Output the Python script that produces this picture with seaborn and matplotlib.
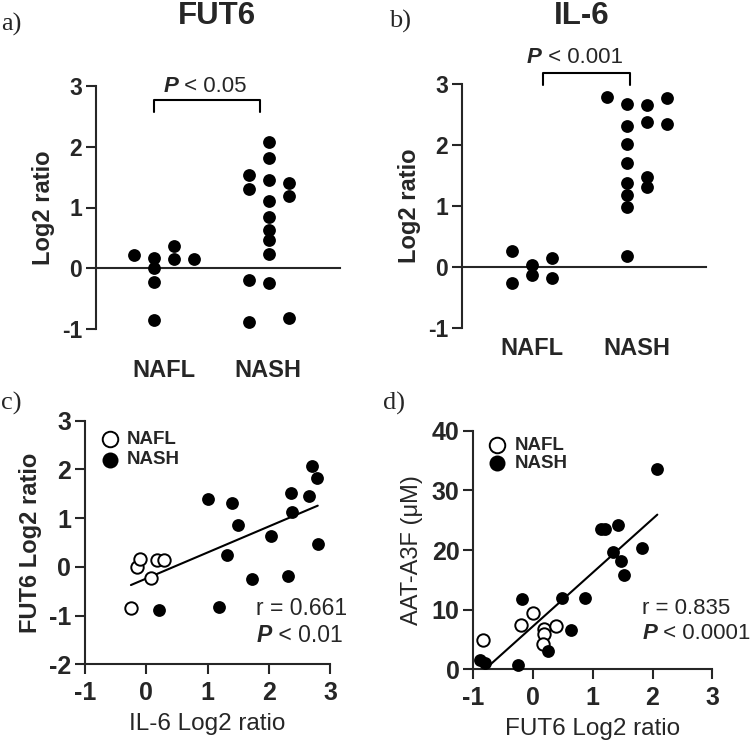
import numpy as np
import pandas as pd
import matplotlib
matplotlib.use("Agg")
import matplotlib.pyplot as plt
import seaborn as sns

# ---------------- data ----------------
groups = ["NAFL", "NASH"]

# panel a: FUT6 log2 ratio (value, dot column within the group)
fut6_nafl = [0.21, 0.17, 0.00, -0.23, -0.86, 0.36, 0.15, 0.16]
fut6_nafl_col = [-1, 0, 0, 0, 0, 1, 1, 2]
fut6_nash = [1.53, 1.31, -0.19, -0.89, 2.07, 1.82, 1.45, 1.11, 0.85, 0.63,
             0.46, 0.24, -0.25, 1.41, 1.19, -0.82]
fut6_nash_col = [-1, -1, -1, -1, 0, 0, 0, 0, 0, 0, 0, 0, 0, 1, 1, 1]

# panel b: IL-6 log2 ratio
il6_nafl = [0.26, -0.27, 0.04, -0.13, 0.14, -0.18]
il6_nafl_col = [-1, -1, 0, 0, 1, 1]
il6_nash = [2.79, 2.68, 2.31, 2.02, 1.70, 1.38, 1.18, 0.99, 0.18, 2.65, 2.37,
            1.48, 1.31, 2.77, 2.35]
il6_nash_col = [-1, 0, 0, 0, 0, 0, 0, 0, 0, 1, 1, 1, 1, 2, 2]

# panel c: IL-6 (x) vs FUT6 (y)
c_nafl_x = [-0.25, -0.15, -0.10, 0.07, 0.18, 0.29]
c_nafl_y = [-0.85, -0.01, 0.17, -0.22, 0.15, 0.15]
c_nash_x = [0.20, 1.00, 1.40, 1.49, 1.32, 1.19, 1.72, 2.04, 2.32, 2.38, 2.36,
            2.66, 2.70, 2.78, 2.80]
c_nash_y = [-0.89, 1.39, 1.32, 0.85, 0.24, -0.82, -0.25, 0.63, -0.18, 1.12,
            1.52, 1.46, 2.08, 1.82, 0.46]

# panel d: FUT6 (x) vs AAT-A3F (y)
d_nafl_x = [-0.84, -0.21, 0.00, 0.18, 0.18, 0.16, 0.38]
d_nafl_y = [4.9, 7.5, 9.4, 6.7, 6.0, 4.2, 7.2]
d_nash_x = [-0.89, -0.81, -0.25, -0.18, 0.25, 0.48, 0.63, 0.87, 1.13, 1.20,
            1.42, 1.33, 1.47, 1.53, 1.83, 2.08]
d_nash_y = [1.6, 1.1, 0.7, 11.8, 3.0, 11.9, 6.6, 12.0, 23.6, 23.6, 24.2, 19.7,
            18.2, 15.8, 20.3, 33.6]

# ---------------- style ----------------
sns.set_style("ticks")
plt.rcParams["font.family"] = ["Liberation Sans", "DejaVu Sans"]
plt.rcParams["axes.linewidth"] = 1.5
plt.rcParams["axes.unicode_minus"] = False

W, H = 750, 742
fig = plt.figure(figsize=(7.5, 7.42), dpi=100)


def rect(x0, y_top, x1, y_bot):
    return [x0 / W, 1 - y_bot / H, (x1 - x0) / W, (y_bot - y_top) / H]


def style_axes(ax, size):
    sns.despine(ax=ax)
    ax.tick_params(direction="out", length=7, width=1.5, labelsize=size, pad=3)
    for lab in ax.get_xticklabels() + ax.get_yticklabels():
        lab.set_fontweight("bold")


def ptext(ax, x, y, rest, size):
    t = ax.text(x, y, "P", fontsize=size, fontweight="bold", fontstyle="italic",
                ha="left", va="center", clip_on=False)
    ax.annotate(rest, xy=(1, 0), xycoords=t, fontsize=size, ha="left",
                va="bottom", annotation_clip=False)


def dot_panel(ax, nafl, nafl_col, nash, nash_col, step, xlim):
    xs = [0 + c * step for c in nafl_col] + [1 + c * step for c in nash_col]
    ys = list(nafl) + list(nash)
    df = pd.DataFrame({"x": xs, "y": ys})
    sns.scatterplot(data=df, x="x", y="y", ax=ax, color="black", s=85,
                    linewidth=0, clip_on=False, zorder=3)
    ax.set_xlim(*xlim)
    ax.set_ylim(-1, 3)
    ax.set_yticks([-1, 0, 1, 2, 3])
    ax.set_xticks([])
    ax.set_xlabel("")
    ax.spines["bottom"].set_position(("data", 0))
    ax.set_ylabel("Log2 ratio", fontsize=17, fontweight="bold", labelpad=5)
    style_axes(ax, 16.5)


# ---------------- panel a ----------------
axa = fig.add_axes(rect(96, 86, 340, 329))
dot_panel(axa, fut6_nafl, fut6_nafl_col, fut6_nash, fut6_nash_col,
          0.174, (-0.504, 1.617))
axa.plot([0, 0, 0.92, 0.92], [2.57, 2.77, 2.77, 2.57], color="black", lw=1.5,
         clip_on=False)
ptext(axa, 0.081, 3.0, " < 0.05", 16)
axa.text(0.087, -1.69, groups[0], ha="center", va="center", fontsize=17,
         fontweight="bold", clip_on=False)
axa.text(0.992, -1.69, groups[1], ha="center", va="center", fontsize=17,
         fontweight="bold", clip_on=False)

# ---------------- panel b ----------------
axb = fig.add_axes(rect(462, 84, 706, 328))
dot_panel(axb, il6_nafl, il6_nafl_col, il6_nash, il6_nash_col,
          0.21, (-0.737, 1.83))
axb.plot([0.116, 0.116, 1.031, 1.031], [2.98, 3.18, 3.18, 2.98],
         color="black", lw=1.5, clip_on=False)
ptext(axb, -0.053, 3.43, " < 0.001", 16)
axb.text(0.0, -1.335, groups[0], ha="center", va="center", fontsize=17,
         fontweight="bold", clip_on=False)
axb.text(1.105, -1.335, groups[1], ha="center", va="center", fontsize=17,
         fontweight="bold", clip_on=False)


def scatter_panel(ax, nx, ny, sx, sy):
    allx = list(nx) + list(sx)
    ally = list(ny) + list(sy)
    sns.regplot(x=np.array(allx), y=np.array(ally), ax=ax, scatter=False,
                ci=None, color="black", line_kws=dict(lw=1.5, zorder=2))
    sns.scatterplot(x=nx, y=ny, ax=ax, s=80, facecolor="white",
                    edgecolor="black", linewidth=1.4, label=groups[0],
                    zorder=3, clip_on=False)
    sns.scatterplot(x=sx, y=sy, ax=ax, s=85, color="black", linewidth=0,
                    label=groups[1], zorder=3, clip_on=False)


# ---------------- panel c ----------------
axc = fig.add_axes(rect(85, 420.7, 330, 664.3))
scatter_panel(axc, c_nafl_x, c_nafl_y, c_nash_x, c_nash_y)
axc.set_xlim(-1, 3)
axc.set_ylim(-2, 3)
axc.set_xticks([-1, 0, 1, 2, 3])
axc.set_yticks([-2, -1, 0, 1, 2, 3])
axc.set_xlabel("IL-6 Log2 ratio", fontsize=17.5, labelpad=6)
axc.set_ylabel("FUT6 Log2 ratio", fontsize=17, fontweight="bold", labelpad=5)
style_axes(axc, 18)
axc.tick_params(axis="x", pad=5)
axc.text(1.79, -0.846, "r = 0.661", fontsize=16.5, ha="left", va="center",
         clip_on=False)
ptext(axc, 1.80, -1.40, " < 0.01", 16.5)
axc.legend(loc="upper left", bbox_to_anchor=(0.066, 0.96),
           frameon=False, borderpad=0, borderaxespad=0, markerscale=1.25,
           handlelength=0.9, handletextpad=0.45, labelspacing=0.2,
           prop=dict(size=13.5, weight="bold"))

# ---------------- panel d ----------------
axd = fig.add_axes(rect(473.3, 430.7, 712.3, 669.3))
scatter_panel(axd, d_nafl_x, d_nafl_y, d_nash_x, d_nash_y)
axd.set_xlim(-1, 3)
axd.set_ylim(0, 40)
axd.set_xticks([-1, 0, 1, 2, 3])
axd.set_yticks([0, 10, 20, 30, 40])
axd.set_xlabel("FUT6 Log2 ratio", fontsize=17.5, labelpad=6)
axd.set_ylabel("AAT-A3F (\u03bcM)", fontsize=17, labelpad=6)
style_axes(axd, 18)
axd.tick_params(axis="x", pad=5)
axd.text(1.83, 10.2, "r = 0.835", fontsize=16, ha="left", va="center",
         clip_on=False)
ptext(axd, 1.83, 6.0, " < 0.0001", 16)
axd.legend(loc="upper left", bbox_to_anchor=(0.064, 0.975),
           frameon=False, borderpad=0, borderaxespad=0, markerscale=1.25,
           handlelength=0.9, handletextpad=0.5, labelspacing=0.05,
           prop=dict(size=13.5, weight="bold"))

# ---------------- titles & panel letters ----------------
fig.text(217 / W, 1 - 16 / H, "FUT6", fontsize=22.5, fontweight="bold",
         ha="center", va="center")
fig.text(582 / W, 1 - 16 / H, "IL-6", fontsize=22.5, fontweight="bold",
         ha="center", va="center")
for lab, x, y in [("a)", 1, 24), ("b)", 389, 21), ("c)", 1, 403), ("d)", 383, 403)]:
    fig.text(x / W, 1 - y / H, lab, fontsize=19, family="Liberation Serif",
             ha="left", va="center")

fig.savefig("out.png", dpi=100)
